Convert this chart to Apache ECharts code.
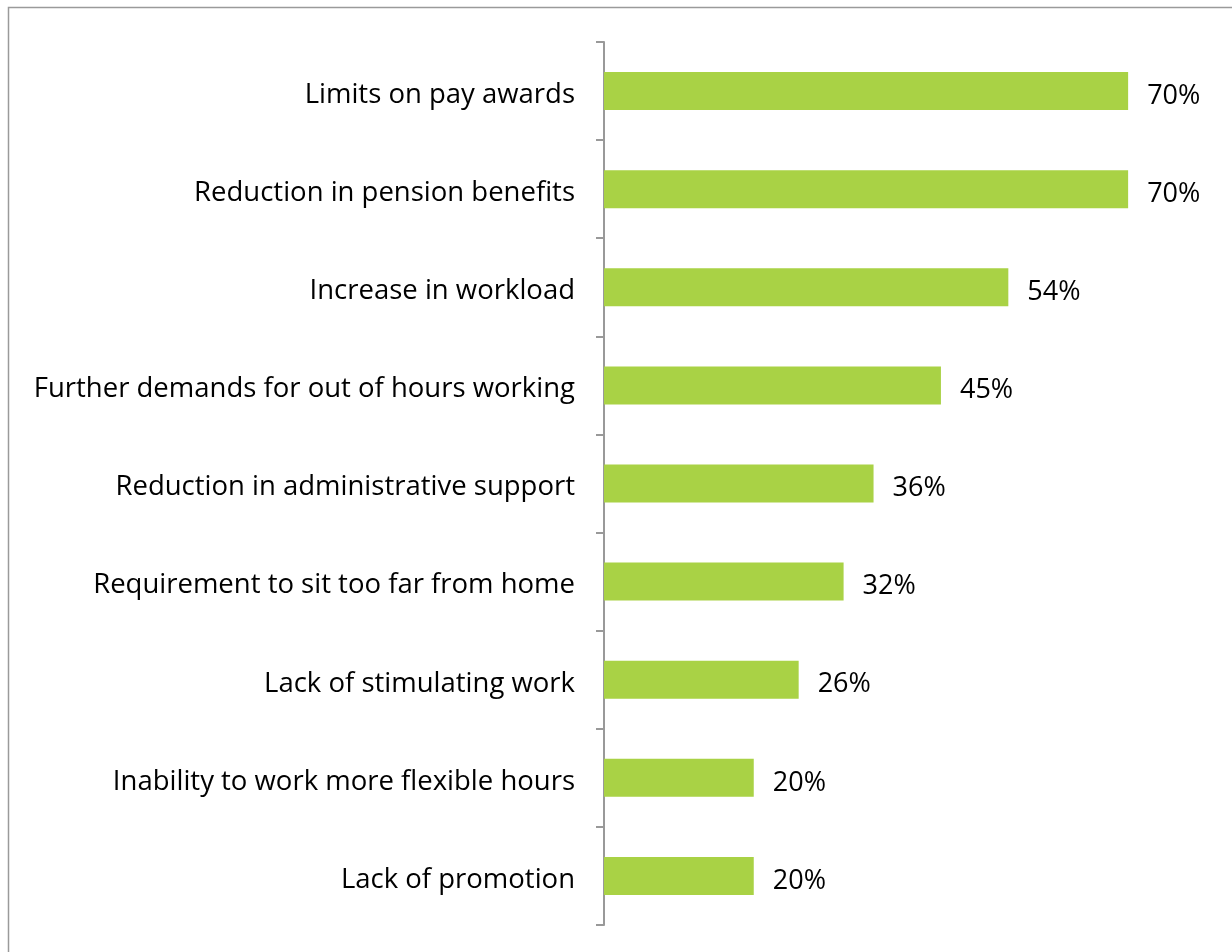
<!DOCTYPE html>
<html>
<head>
<meta charset="utf-8">
<script src="https://cdn.jsdelivr.net/npm/echarts@6/dist/echarts.min.js"></script>
<style>
  html, body { margin: 0; padding: 0; background: #fff; }
  #chart { width: 1232px; height: 952px; }
</style>
</head>
<body>
<div id="chart"></div>
<script>
// Reasons respondents gave, listed top to bottom
const categories = [
  'Limits on pay awards',
  'Reduction in pension benefits',
  'Increase in workload',
  'Further demands for out of hours working',
  'Reduction in administrative support',
  'Requirement to sit too far from home',
  'Lack of stimulating work',
  'Inability to work more flexible hours',
  'Lack of promotion'
];
// Share of respondents (%)
const percentages = [70, 70, 54, 45, 36, 32, 26, 20, 20];

const FONT = '"Open Sans", Lato, sans-serif';

const chart = echarts.init(document.getElementById('chart'), null, { renderer: 'canvas' });
chart.setOption({
  backgroundColor: '#ffffff',
  animation: false,
  graphic: [{
    type: 'rect',
    shape: { x: 8.5, y: 7.5, width: 1300, height: 1000 },
    style: { fill: 'none', stroke: '#9a9a9a', lineWidth: 1.5 },
    silent: true,
    z: -1
  }],
  grid: { left: 604, right: 29, top: 42, bottom: 27, containLabel: false },
  xAxis: {
    type: 'value',
    min: 0,
    max: 80,
    show: false
  },
  yAxis: {
    type: 'category',
    inverse: true,
    data: categories,
    axisLine: { show: true, lineStyle: { color: '#999999', width: 2 } },
    axisTick: { show: true, length: 8, inside: false, lineStyle: { color: '#999999', width: 2 } },
    // labels sit a few pixels below the bar centre
    axisLabel: {
      color: '#000', fontFamily: FONT, fontSize: 27.5, margin: 29,
      verticalAlign: 'top', lineHeight: 8
    },
    splitLine: { show: false }
  },
  series: [{
    type: 'bar',
    data: percentages,
    barWidth: 38,
    itemStyle: { color: '#A9D245' },
    label: {
      show: true,
      position: 'right',
      distance: 19,
      offset: [0, 5],
      formatter: p => p.value + '%',
      color: '#000',
      fontFamily: FONT,
      fontSize: 27
    }
  }]
});
</script>
</body>
</html>
